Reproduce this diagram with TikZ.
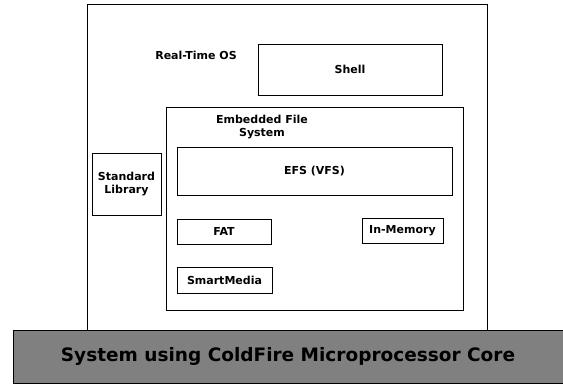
\documentclass[tikz,border=0pt]{standalone}
\usepackage{fontspec}
\setmainfont{DejaVu Sans}
\usepackage{tikz}
\usetikzlibrary{positioning}
\tikzset{blk/.style={draw,line width=0.8pt,inner sep=0pt,font=\bfseries\fontsize{11}{13}\selectfont,align=center},
lbl/.style={font=\bfseries\fontsize{11}{13}\selectfont,align=center}}
\begin{document}
\begin{tikzpicture}[x=1pt,y=-1pt]
\useasboundingbox(0,0)rectangle(563,386);
% outer system and file system frames
\draw[line width=0.8pt](87,4)rectangle(487,330);
\draw[line width=0.8pt](166,107)rectangle(463,310);
\node[lbl](rtos) at (196,55){Real-Time OS};
\node[lbl](efstitle) at (262,127){Embedded File\\System};
% blocks
\node[blk,minimum width=184pt,minimum height=51pt](shell) at (350,69.5){Shell};
\node[blk,minimum width=69pt,minimum height=62pt](stdlib) at (126.5,184){Standard\\Library};
\node[blk,minimum width=275pt,minimum height=48pt](vfs) at (314.5,171){EFS (VFS)};
\node[blk,minimum width=94pt,minimum height=25pt](fat) at (224,231.5){FAT};
\node[blk,minimum width=81pt,minimum height=25pt](inmem) at (402.5,230.5){In-Memory};
\node[blk,minimum width=95pt,minimum height=26pt](smart) at (224.5,280){SmartMedia};
% bottom bar
\node[draw,line width=0.8pt,fill=black!50,minimum width=550pt,minimum height=53pt,inner sep=0pt,
font=\bfseries\fontsize{18.5}{22}\selectfont](core) at (288,356.5){System using ColdFire Microprocessor Core};
\end{tikzpicture}
\end{document}
